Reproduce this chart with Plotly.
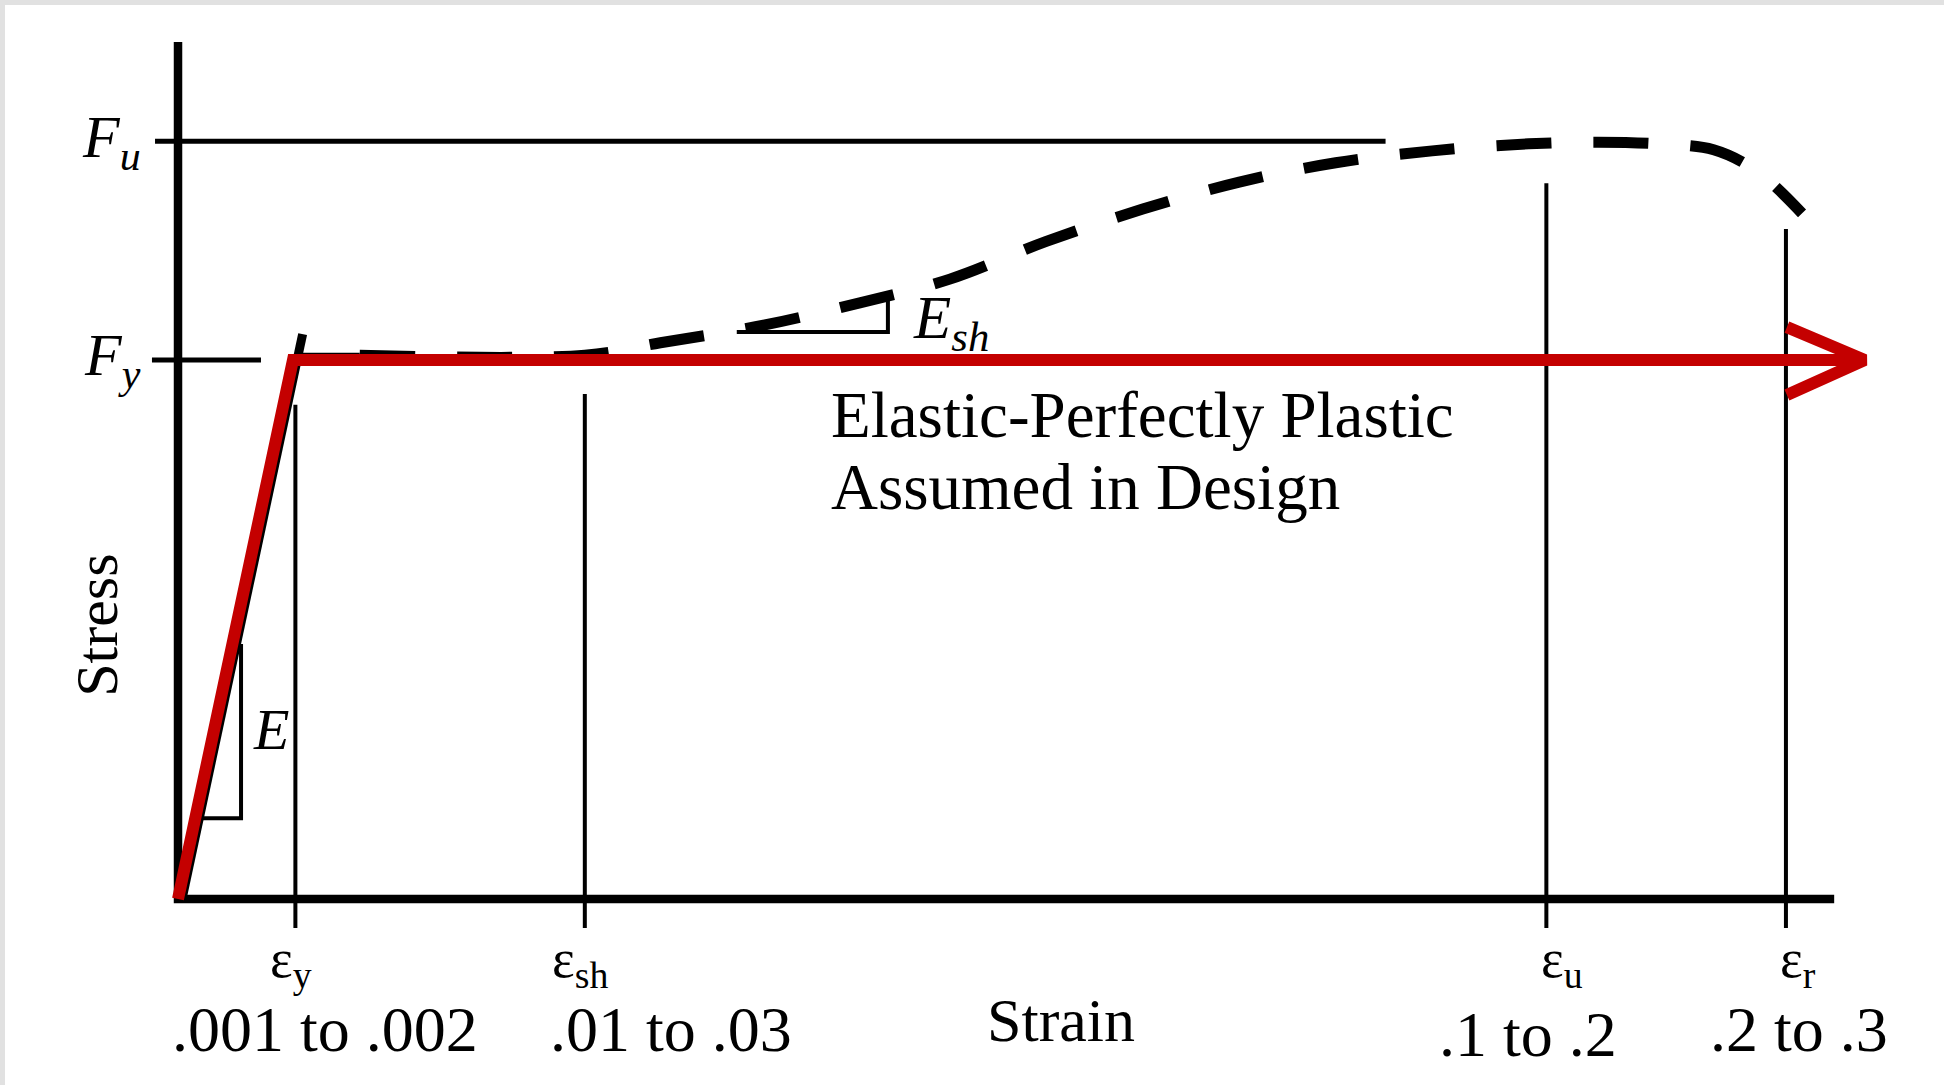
import plotly.graph_objects as go

# ---------------- data (schematic units: strain positions scaled so eps_r = 100, stress normalised to Fy = 1) -------------
eps_y, eps_sh, eps_u, eps_r = 7.3, 25.3, 85.1, 100.0
Fy, Fu = 1.0, 1.406

# axes of the schematic
axis_x = [0.0, 0.0, 103.0]
axis_y = [1.59, 0.0, 0.0]

# actual (measured) curve: elastic branch + small yield overshoot
elastic_x = [0.25, 7.75]
elastic_y = [0.0, 1.048]

# actual curve: yield plateau, strain hardening, ultimate, necking to rupture (dashed)
actual_x = [11.3, 25.3, 30.0, 36.5, 42.4, 48.0, 54.0, 60.0, 66.0, 72.0, 78.0, 84.0, 88.3, 92.0, 95.5, 98.2, 101.0]
actual_y = [1.009, 1.009, 1.032, 1.065, 1.106, 1.150, 1.220, 1.280, 1.330, 1.366, 1.388, 1.401, 1.404, 1.401, 1.390, 1.350, 1.272]

# elastic-perfectly plastic idealisation (red)
epp_x = [0.0, 7.15, 104.9]
epp_y = [0.0, Fy, Fy]
arrow_x = [100.06, 104.9, 100.06]
arrow_y = [1.061, Fy, 0.935]

# reference lines
fu_line_x = [-1.43, 75.1]
fy_line_x = [-1.62, 5.16]
strain_marks = [eps_y, eps_sh, eps_u, eps_r]
strain_mark_top = [0.917, 0.937, 1.328, 1.243]
strain_mark_bottom = -0.054

# slope triangles
e_tri_x = [1.55, 3.92, 3.92]
e_tri_y = [0.150, 0.150, 0.473]
esh_tri_x = [34.75, 44.15, 44.15]
esh_tri_y = [1.052, 1.052, 1.11]

# labels
strain_symbols = ["ε<sub>y</sub>", "ε<sub>sh</sub>", "ε<sub>u</sub>", "ε<sub>r</sub>"]
symbol_x = [7.0, 25.0, 86.1, 100.75]
strain_ranges = [".001 to .002", ".01 to .03", ".1 to .2", ".2 to .3"]
range_x = [9.14, 30.66, 83.96, 100.8]
range_y = [-0.243, -0.243, -0.251, -0.243]
note_lines = ["Elastic-Perfectly Plastic", "Assumed in Design"]
note_y = [0.898, 0.764]

FONT = "Liberation Serif, Times New Roman, serif"

fig = go.Figure()

# axes
fig.add_trace(go.Scatter(x=axis_x, y=axis_y, mode="lines",
                         line=dict(color="black", width=8.5), hoverinfo="skip"))
# Fu and Fy reference lines
fig.add_trace(go.Scatter(x=fu_line_x, y=[Fu, Fu], mode="lines",
                         line=dict(color="black", width=5), hoverinfo="skip"))
fig.add_trace(go.Scatter(x=fy_line_x, y=[Fy, Fy], mode="lines",
                         line=dict(color="black", width=5), hoverinfo="skip"))
# strain marks
for sx, top in zip(strain_marks, strain_mark_top):
    fig.add_trace(go.Scatter(x=[sx, sx], y=[strain_mark_bottom, top], mode="lines",
                             line=dict(color="black", width=4), hoverinfo="skip"))
# slope triangles
fig.add_trace(go.Scatter(x=e_tri_x, y=e_tri_y, mode="lines",
                         line=dict(color="black", width=4), hoverinfo="skip"))
fig.add_trace(go.Scatter(x=esh_tri_x, y=esh_tri_y, mode="lines",
                         line=dict(color="black", width=4), hoverinfo="skip"))
# actual curve
fig.add_trace(go.Scatter(x=elastic_x, y=elastic_y, mode="lines",
                         line=dict(color="black", width=9), hoverinfo="skip"))
fig.add_trace(go.Scatter(x=[7.6, 11.3], y=[1.009, 1.009], mode="lines",
                         line=dict(color="black", width=5), hoverinfo="skip"))
fig.add_trace(go.Scatter(x=actual_x, y=actual_y, mode="lines",
                         line=dict(color="black", width=11, dash="55px,42px",
                                   shape="spline", smoothing=1.0), hoverinfo="skip"))
# elastic-perfectly plastic
fig.add_trace(go.Scatter(x=epp_x, y=epp_y, mode="lines",
                         line=dict(color="#c40000", width=12), hoverinfo="skip"))
fig.add_trace(go.Scatter(x=arrow_x, y=arrow_y, mode="lines",
                         line=dict(color="#c40000", width=12), hoverinfo="skip"))

ann = []
def txt(x, y, t, size, xa="center", ya="middle", angle=0):
    ann.append(dict(x=x, y=y, xref="x", yref="y", text=t, showarrow=False,
                    xanchor=xa, yanchor=ya, textangle=angle, align="left",
                    font=dict(family=FONT, size=size, color="black")))

txt(-2.2, Fu, "<i>F<sub>u</sub></i>", 60, xa="right")
txt(-2.2, Fy, "<i>F<sub>y</sub></i>", 60, xa="right")
txt(5.8, 0.314, "<i>E</i>", 58)
txt(45.6, 1.07, "<i>E<sub>sh</sub></i>", 61, xa="left")
for ny, line in zip(note_y, note_lines):
    txt(40.5, ny, line, 65, xa="left")
txt(-5.0, 0.508, "Stress", 60, angle=-90)
txt(54.9, -0.225, "Strain", 62)
for sx, s in zip(symbol_x, strain_symbols):
    txt(sx, -0.118, s, 54)
for rx, ry, s in zip(range_x, range_y, strain_ranges):
    txt(rx, ry, s, 64)

fig.update_layout(
    width=1944, height=1085,
    margin=dict(l=5, r=0, t=5, b=0, pad=0),
    paper_bgcolor="#e1e1e1", plot_bgcolor="white",
    showlegend=False, annotations=ann,
    xaxis=dict(range=[-10.76, 109.83], visible=False, fixedrange=True),
    yaxis=dict(range=[-0.3451, 1.6586], visible=False, fixedrange=True),
)

fig.write_html("out.html", config={"displayModeBar": False},
               post_script="document.body.style.margin='0';document.body.style.overflow='hidden';")
